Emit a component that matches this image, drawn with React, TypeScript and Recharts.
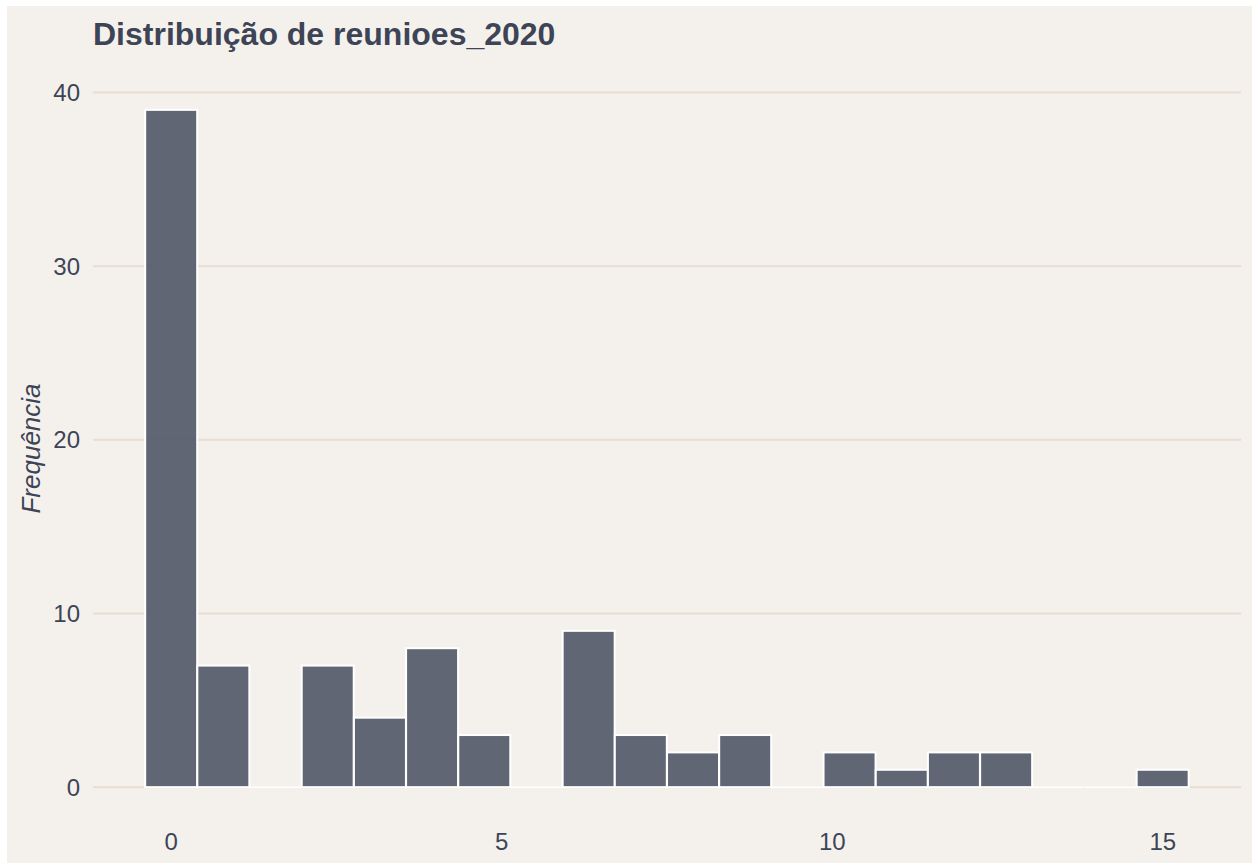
import React from 'react';
import { BarChart, Bar, XAxis, YAxis, CartesianGrid, Label } from 'recharts';

// histograma de reunioes_2020: 20 bins entre 0 e 15
const binCenters = [
  0, 0.789, 1.579, 2.368, 3.158, 3.947, 4.737, 5.526, 6.316, 7.105,
  7.895, 8.684, 9.474, 10.263, 11.053, 11.842, 12.632, 13.421, 14.211, 15,
];
const counts = [39, 7, 0, 7, 4, 8, 3, 0, 9, 3, 2, 3, 0, 2, 1, 2, 2, 0, 0, 1];
const xTicks = [0, 5, 10, 15];
const yTicks = [0, 10, 20, 30, 40];

const data = binCenters.map((x, i) => ({ x, count: counts[i] }));

const FONT = '"Liberation Sans", Arial, Helvetica, sans-serif';
const TEXT = '#3d4456';
const BG = '#f4f1ec';
const GRID = '#e8ddd0';
const BAR = '#535a69';

const HistBar = (props: any) => {
  const { x, y, width, height } = props;
  if (!height) {
    return <path d={`M${x},${y}H${x + width}`} stroke="#ffffff" strokeWidth={2} />;
  }
  return (
    <rect
      x={x}
      y={y}
      width={width}
      height={height}
      fill={BAR}
      fillOpacity={0.92}
      stroke="#ffffff"
      strokeWidth={2}
    />
  );
};

export default function App() {
  return (
    <div style={{ position: 'absolute', left: 0, top: 0, width: 1252, height: 863, background: '#ffffff' }}>
      <div style={{ position: 'absolute', left: 7, top: 6, width: 1245, height: 857, background: BG }}>
        <div
          style={{
            position: 'absolute',
            left: 86,
            top: 12,
            fontFamily: FONT,
            fontWeight: 'bold',
            fontSize: 32,
            lineHeight: '32px',
            color: TEXT,
            whiteSpace: 'nowrap',
          }}
        >
          Distribuição de reunioes_2020
        </div>
        <BarChart
          width={1245}
          height={857}
          data={data}
          margin={{ top: 70, right: 11, bottom: 0, left: 0 }}
          barCategoryGap={0}
          barGap={0}
          style={{ fontFamily: FONT }}
        >
          <CartesianGrid
            vertical={false}
            horizontalValues={yTicks}
            stroke={GRID}
            strokeWidth={2}
          />
          <XAxis
            dataKey="x"
            type="number"
            domain={[-1.1842, 16.1842]}
            ticks={xTicks}
            allowDataOverflow
            axisLine={false}
            tickLine={false}
            tickSize={0}
            tickMargin={12}
            height={42}
            tick={{ fill: TEXT, fontSize: 24 }}
          />
          <YAxis
            type="number"
            domain={[-1.95, 40.95]}
            ticks={yTicks}
            allowDataOverflow
            axisLine={false}
            tickLine={false}
            tickSize={0}
            tickMargin={13}
            width={86}
            tick={{ fill: TEXT, fontSize: 24 }}
          >
            <Label
              content={({ viewBox }: any) => {
                const cy = viewBox.y + viewBox.height / 2;
                return (
                  <text
                    x={24}
                    y={cy}
                    transform={`rotate(-90, 24, ${cy})`}
                    textAnchor="middle"
                    dominantBaseline="central"
                    fill={TEXT}
                    fontSize={26}
                    fontStyle="italic"
                    fontFamily={FONT}
                  >
                    Frequência
                  </text>
                );
              }}
            />
          </YAxis>
          <Bar dataKey="count" shape={<HistBar />} isAnimationActive={false} />
        </BarChart>
      </div>
    </div>
  );
}
